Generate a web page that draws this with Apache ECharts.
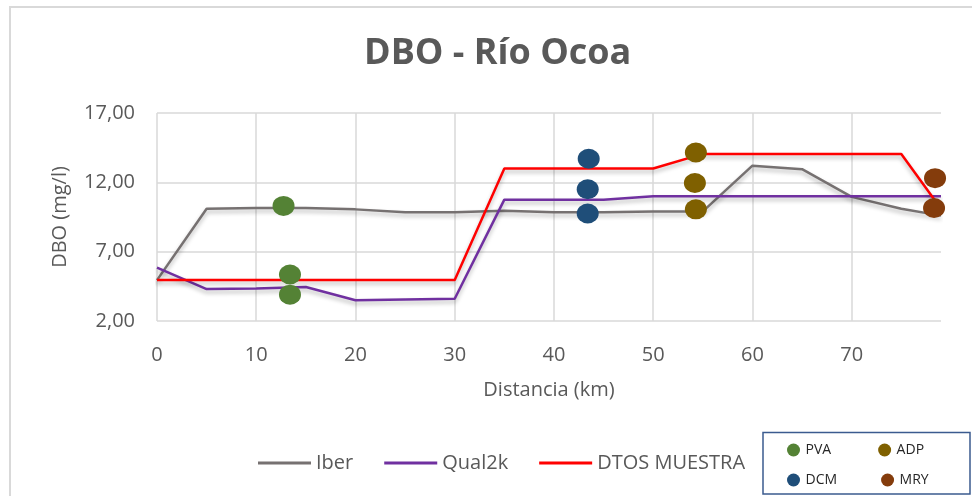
<!DOCTYPE html>
<html>
<head>
<meta charset="utf-8">
<title>DBO - Río Ocoa</title>
<script src="https://cdn.jsdelivr.net/npm/echarts@6/dist/echarts.min.js"></script>
<style>
  html, body { margin: 0; padding: 0; background: #ffffff; }
  #chart { width: 972px; height: 496px; }
</style>
</head>
<body>
<div id="chart"></div>
<script>
// Distance along the river (km) and DBO (mg/l) for each model / sample set
const iberKm = [0, 5, 10, 15, 20, 25, 30, 35, 40, 45, 50, 55, 60, 65, 70, 75, 79];
const iberDbo = [4.95, 10.1, 10.15, 10.15, 10.05, 9.85, 9.85, 9.95, 9.85, 9.85, 9.9, 9.9, 13.2, 12.95, 10.95, 10.1, 9.6];

const qualKm = [0, 5, 10, 15, 20, 25, 30, 35, 40, 45, 50, 55, 60, 65, 70, 75, 79];
const qualDbo = [5.85, 4.3, 4.35, 4.45, 3.5, 3.55, 3.6, 10.75, 10.75, 10.75, 11.0, 11.0, 11.0, 11.0, 11.0, 11.0, 11.0];

const muestraKm = [0, 30, 35, 50, 55, 75, 79];
const muestraDbo = [4.95, 4.95, 13.0, 13.0, 14.05, 14.05, 10.1];

// Sampling stations
const pvaKm = [12.75, 13.4, 13.4];
const pvaDbo = [10.3, 5.35, 3.9];
const dcmKm = [43.5, 43.4, 43.4];
const dcmDbo = [13.7, 11.5, 9.75];
const adpKm = [54.3, 54.2, 54.3];
const adpDbo = [14.15, 11.95, 10.05];
const mryKm = [78.4, 78.3];
const mryDbo = [12.3, 10.15];

const yTicks = [2, 7, 12, 17];
const xTicks = [0, 10, 20, 30, 40, 50, 60, 70];

const pairs = (xs, ys) => xs.map((x, i) => [x, ys[i]]);

const FONT = '"Open Sans", "DejaVu Sans", sans-serif';
const TXT = '#595959';

const lineShadow = { shadowColor: 'rgba(0,0,0,0.28)', shadowBlur: 4, shadowOffsetY: 3 };

function lineSeries(name, xs, ys, color) {
  return {
    name, type: 'line', data: pairs(xs, ys), symbol: 'none', z: 2,
    lineStyle: Object.assign({ color, width: 2.5 }, lineShadow),
    itemStyle: { color }
  };
}
function dotSeries(name, xs, ys, color) {
  return {
    name, type: 'scatter', data: pairs(xs, ys), symbol: 'circle',
    symbolSize: [22, 20], z: 5, itemStyle: { color, opacity: 1 }
  };
}

const chart = echarts.init(document.getElementById('chart'), null, { renderer: 'canvas' });

chart.setOption({
  animation: false,
  backgroundColor: '#ffffff',
  textStyle: { fontFamily: FONT },
  title: {
    text: 'DBO - Río Ocoa',
    left: 359,
    top: 31,
    textStyle: { fontFamily: FONT, fontSize: 36, fontWeight: 'bold', color: TXT }
  },
  grid: { left: 157, top: 113, right: 31, bottom: 175, containLabel: false },
  xAxis: {
    type: 'value', min: 0, max: 79, interval: 10,
    name: 'Distancia (km)', nameLocation: 'middle', nameGap: 59,
    nameTextStyle: { fontFamily: FONT, fontSize: 20, color: TXT },
    axisLine: { show: false }, axisTick: { show: false },
    axisLabel: {
      fontFamily: FONT, fontSize: 20, color: TXT, margin: 24, showMaxLabel: false,
      formatter: v => (xTicks.includes(v) ? String(v) : '')
    },
    splitLine: { show: true, showMaxLine: false, lineStyle: { color: '#d9d9d9', width: 1.5 } }
  },
  yAxis: {
    type: 'value', min: yTicks[0], max: yTicks[yTicks.length - 1], interval: 5,
    name: 'DBO (mg/l)', nameLocation: 'middle', nameGap: 87,
    nameTextStyle: { fontFamily: FONT, fontSize: 20, color: TXT },
    axisLine: { show: false }, axisTick: { show: false },
    axisLabel: {
      fontFamily: FONT, fontSize: 20, color: TXT, margin: 22,
      formatter: v => v.toFixed(2).replace('.', ',')
    },
    splitLine: { show: true, showMaxLine: true, lineStyle: { color: '#d9d9d9', width: 1.5 } }
  },
  legend: [
    {
      data: ['Iber', 'Qual2k', 'DTOS MUESTRA'],
      left: 253, top: 448, itemGap: 31, itemWidth: 53, itemHeight: 14,
      icon: 'path://M0,6 L53,6 L53,9 L0,9 Z',
      textStyle: { fontFamily: FONT, fontSize: 20, color: TXT }
    },
    {
      data: ['PVA', 'ADP'],
      left: 782, top: 438, itemGap: 47, itemWidth: 14, itemHeight: 13, icon: 'circle',
      itemStyle: { opacity: 1 },
      textStyle: { fontFamily: FONT, fontSize: 14, color: '#262626' }
    },
    {
      data: ['DCM', 'MRY'],
      left: 782, top: 468, itemGap: 44, itemWidth: 14, itemHeight: 13, icon: 'circle',
      itemStyle: { opacity: 1 },
      textStyle: { fontFamily: FONT, fontSize: 14, color: '#262626' }
    }
  ],
  graphic: [
    {
      type: 'rect', silent: true, z: -1,
      shape: { x: 10, y: 7, width: 1000, height: 600 },
      style: { fill: 'none', stroke: '#d9d9d9', lineWidth: 2 }
    },
    {
      type: 'rect', silent: true,
      shape: { x: 763, y: 432.5, width: 207, height: 61.5 },
      style: { fill: '#ffffff', stroke: '#3b5b8f', lineWidth: 1.5 },
      z: 0
    }
  ],
  series: [
    lineSeries('Iber', iberKm, iberDbo, '#767171'),
    lineSeries('Qual2k', qualKm, qualDbo, '#7030a0'),
    lineSeries('DTOS MUESTRA', muestraKm, muestraDbo, '#ff0000'),
    dotSeries('PVA', pvaKm, pvaDbo, '#548235'),
    dotSeries('DCM', dcmKm, dcmDbo, '#1f4e79'),
    dotSeries('ADP', adpKm, adpDbo, '#7f6000'),
    dotSeries('MRY', mryKm, mryDbo, '#843c0c')
  ]
});
</script>
</body>
</html>
